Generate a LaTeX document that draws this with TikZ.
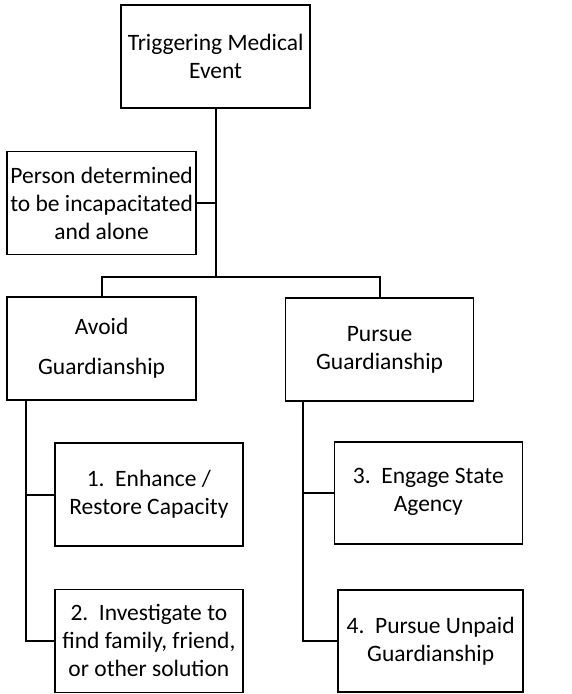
\documentclass[tikz,border=0pt]{standalone}
\usepackage{fontspec}
\setmainfont{Carlito}
\begin{document}
\begin{tikzpicture}[x=1pt,y=-1pt,
  box/.style={draw, line width=1.5pt, rectangle, align=center, inner sep=0pt,
    minimum height=103pt, font=\fontsize{23.5}{28}\selectfont},
  conn/.style={line width=1.8pt}]
\useasboundingbox (0,0) rectangle (571,694);
\node[box, minimum width=189pt] (trig) at (215.6,56.5) {Triggering Medical\\Event};
\node[box, minimum width=189pt] (person) at (101.6,203) {Person determined\\to be incapacitated\\and alone};
\node[box, minimum width=189pt] (avoid) at (101.6,348.7) {Avoid\\[12pt]Guardianship};
\node[box, minimum width=188pt] (pursue) at (379.6,349.7) {Pursue\\Guardianship};
\node[box, minimum width=188pt] (b1) at (148.9,494.7) {1.\ \ Enhance /\\Restore Capacity};
\node[box, minimum width=188pt] (b2) at (148.9,640.8) {2.\ \ Investigate to\\find family, friend,\\or other solution};
\node[box, minimum width=188pt, minimum height=102pt] (b3) at (428.3,493.2) {3.\ \ Engage State\\Agency\\[-21pt]\mbox{}};
\node[box, minimum width=185pt, minimum height=102pt] (b4) at (430.7,641.2) {4.\ \ Pursue Unpaid\\Guardianship};
\coordinate (j) at (215.6,276.7);
\draw[conn] (trig.south) -- (j);
\draw[conn] (person.east) -- (person.east -| trig.south);
\draw[conn] (avoid.north) -- (avoid.north |- j) -- (pursue.north |- j) -- (pursue.north);
\draw[conn] ([xshift=19.4pt]avoid.south west) |- (b1.west);
\draw[conn] ([xshift=19.4pt]avoid.south west) |- (b2.west);
\draw[conn] ([xshift=18.4pt]pursue.south west) |- (b3.west);
\draw[conn] ([xshift=18.4pt]pursue.south west) |- (b4.west);
\end{tikzpicture}
\end{document}
